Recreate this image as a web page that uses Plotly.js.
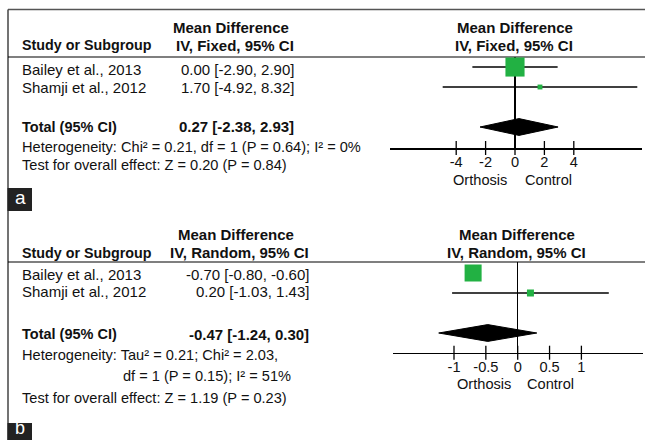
<!DOCTYPE html>
<html><head><meta charset="utf-8">
<script src="https://cdn.plot.ly/plotly-3.0.1.min.js"></script>
<style>html,body{margin:0;padding:0;background:#fff}#chart{width:645px;height:440px}</style>
</head><body><div id="chart"></div>
<script>
// ---------- data ----------
const studies = ["Bailey et al., 2013", "Shamji et al., 2012"];
const fixedMean = [0.00, 1.70];
const fixedLower = [-2.90, -4.92];
const fixedUpper = [2.90, 8.32];
const fixedWeight = [83.9, 16.1];
const fixedTotal = [0.27, -2.38, 2.93];      // estimate, lower, upper
const randomMean = [-0.70, 0.20];
const randomLower = [-0.80, -1.03];
const randomUpper = [-0.60, 1.43];
const randomWeight = [73.9, 26.1];
const randomTotal = [-0.47, -1.24, 0.30];
const fixedTicks = [-4, -2, 0, 2, 4];
const randomTicks = [-1, -0.5, 0, 0.5, 1];
const fixedHet = "Heterogeneity: Chi² = 0.21, df = 1 (P = 0.64); I² = 0%";
const fixedTest = "Test for overall effect: Z = 0.20 (P = 0.84)";
const randomHet1 = "Heterogeneity: Tau² = 0.21; Chi² = 2.03,";
const randomHet2 = "df = 1 (P = 0.15); I² = 51%";
const randomTest = "Test for overall effect: Z = 1.19 (P = 0.23)";

// ---------- helpers ----------
const W = 645, H = 440;
const FONT = "Liberation Sans, Arial, sans-serif";
const GREEN = "#22b143";
const px = x => x / W;
const py = y => 1 - y / H;
const f2 = v => v.toFixed(2);
const ciText = (m, l, u) => f2(m) + " [" + f2(l) + ", " + f2(u) + "]";
const sizeOf = w => 1.5 + 0.21 * w;

const traces = [];
const annotations = [];
const shapes = [];

function ann(text, x, y, anchor, bold, size, color, yanchor) {
  annotations.push({
    text: bold ? "<b>" + text + "</b>" : text,
    x: px(x), y: py(y), xref: "paper", yref: "paper",
    xanchor: anchor, yanchor: yanchor || "middle", showarrow: false,
    font: {family: FONT, size: size || 15, color: color || "#111"}
  });
}

function panel(ax, mean, lower, upper, weight, total) {
  const xa = "x" + (ax === 1 ? "" : ax), ya = "y" + (ax === 1 ? "" : ax);
  const rows = [0, 1];
  const totalRow = 3;
  for (let i = 0; i < mean.length; i++) {
    traces.push({type: "scatter", mode: "lines", xaxis: xa, yaxis: ya,
      x: [lower[i], upper[i]], y: [rows[i], rows[i]],
      line: {color: "#000", width: 1.3}, hoverinfo: "skip"});
  }
  traces.push({type: "scatter", mode: "markers", xaxis: xa, yaxis: ya,
    x: mean, y: rows,
    marker: {symbol: "square", color: GREEN, opacity: 1, size: weight.map(sizeOf), sizemode: "diameter", line: {width: 0}}});
  const h = 0.42;
  traces.push({type: "scatter", mode: "lines", xaxis: xa, yaxis: ya,
    x: [total[1], total[0], total[2], total[0], total[1]],
    y: [totalRow, totalRow - h, totalRow, totalRow + h, totalRow],
    fill: "toself", fillcolor: "#000", line: {color: "#000", width: 1}});
}

panel(1, fixedMean, fixedLower, fixedUpper, fixedWeight, fixedTotal);
panel(2, randomMean, randomLower, randomUpper, randomWeight, randomTotal);

const yaRange = [4.05, -0.5], ybRange = [3.985, -0.55];
traces.push({type: "scatter", mode: "markers", xaxis: "x", yaxis: "y", cliponaxis: false,
  x: fixedTicks, y: fixedTicks.map(() => yaRange[0]),
  marker: {symbol: "line-ns", size: 10, line: {color: "#000", width: 1.3}}});
traces.push({type: "scatter", mode: "markers", xaxis: "x2", yaxis: "y2", cliponaxis: false,
  x: randomTicks, y: randomTicks.map(() => ybRange[0]),
  marker: {symbol: "line-ns", size: 10, line: {color: "#000", width: 1.3}}});

// text panel a
ann("Mean Difference", 231, 27, "center", true);
ann("Study or Subgroup", 20, 45, "left", true, 14.3);
ann("IV, Fixed, 95% CI", 296, 45, "right", true);
ann("Mean Difference", 515, 27, "center", true);
ann("IV, Fixed, 95% CI", 514, 45, "center", true);
ann(studies[0], 20, 70, "left");
ann(studies[1], 20, 88, "left");
ann(ciText(fixedMean[0], fixedLower[0], fixedUpper[0]), 296, 70, "right");
ann(ciText(fixedMean[1], fixedLower[1], fixedUpper[1]), 296, 88, "right");
ann("Total (95% CI)", 20, 127, "left", true, 14.5);
ann(ciText(fixedTotal[0], fixedTotal[1], fixedTotal[2]), 296, 127, "right", true);
ann(fixedHet, 20, 147, "left", false, 14.6);
ann(fixedTest, 20, 165, "left", false, 14.6);
ann("Orthosis", 480, 180, "center", false, 14.6);
ann("Control", 548, 180, "center", false, 14.6);

// text panel b
ann("Mean Difference", 236, 234, "center", true);
ann("Study or Subgroup", 20, 253, "left", true, 14.3);
ann("IV, Random, 95% CI", 311, 253, "right", true);
ann("Mean Difference", 517, 234, "center", true);
ann("IV, Random, 95% CI", 516, 253, "center", true);
ann(studies[0], 20, 274, "left");
ann(studies[1], 20, 291, "left");
ann(ciText(randomMean[0], randomLower[0], randomUpper[0]), 311, 274, "right");
ann(ciText(randomMean[1], randomLower[1], randomUpper[1]), 311, 291, "right");
ann("Total (95% CI)", 20, 334, "left", true, 14.5);
ann(ciText(randomTotal[0], randomTotal[1], randomTotal[2]), 311, 334, "right", true);
ann(randomHet1, 20, 355, "left", false, 14.6);
ann(randomHet2, 121, 376, "left", false, 14.6);
ann(randomTest, 20, 398, "left", false, 14.6);
ann("Orthosis", 484, 384, "center", false, 14.6);
ann("Control", 550, 384, "center", false, 14.6);

// panel labels
ann("a", 20, 198, "center", false, 19, "#fff");
ann("b", 20, 440, "center", false, 18, "#fff", "bottom");

// frame & rules
const line = (x0, y0, x1, y1, c, w) => shapes.push({type: "line", xref: "paper", yref: "paper",
  x0: px(x0), y0: py(y0), x1: px(x1), y1: py(y1), line: {color: c, width: w}, layer: "below"});
line(8, 9.5, 645, 9.5, "#555", 1.5);
line(8, 9.5, 8, 440, "#444", 1.5);
line(8, 57, 645, 57, "#000", 1.2);
line(8, 262, 645, 262, "#000", 1.2);
shapes.push({type: "rect", xref: "paper", yref: "paper", x0: px(7.5), x1: px(32), y0: py(188), y1: py(211),
  fillcolor: "#222", line: {width: 0}});
shapes.push({type: "rect", xref: "paper", yref: "paper", x0: px(7.5), x1: px(32), y0: py(423), y1: py(441),
  fillcolor: "#222", line: {width: 0}});

const axisCommon = {
  ticks: "",
  showline: true, linecolor: "#000", linewidth: 1.5,
  zeroline: true, zerolinecolor: "#000", zerolinewidth: 1.2,
  showgrid: false, fixedrange: true,
  tickfont: {family: FONT, size: 14.6, color: "#111"}
};
const hiddenY = {showgrid: false, zeroline: false, showline: false, showticklabels: false, ticks: "", fixedrange: true};

const layout = {
  width: W, height: H,
  margin: {l: 0, r: 0, t: 0, b: 0},
  paper_bgcolor: "#fff", plot_bgcolor: "#fff",
  showlegend: false,
  xaxis: Object.assign({}, axisCommon, {
    domain: [px(390), px(642)], anchor: "y",
    range: [(390 - 515) / 14.7, (642 - 515) / 14.7],
    tickvals: fixedTicks, ticktext: fixedTicks.map(String)
  }),
  yaxis: Object.assign({}, hiddenY, {domain: [py(148), py(57)], range: yaRange, anchor: "x"}),
  xaxis2: Object.assign({}, axisCommon, {
    domain: [px(392.7), px(643)], anchor: "y2",
    range: [(392.7 - 517.7) / 63.7, (643 - 517.7) / 63.7],
    tickvals: randomTicks, ticktext: randomTicks.map(String)
  }),
  yaxis2: Object.assign({}, hiddenY, {domain: [py(352.7), py(262)], range: ybRange, anchor: "x2"}),
  annotations: annotations,
  shapes: shapes
};

Plotly.newPlot("chart", traces, layout, {displayModeBar: false, staticPlot: true});
</script>
</body></html>
